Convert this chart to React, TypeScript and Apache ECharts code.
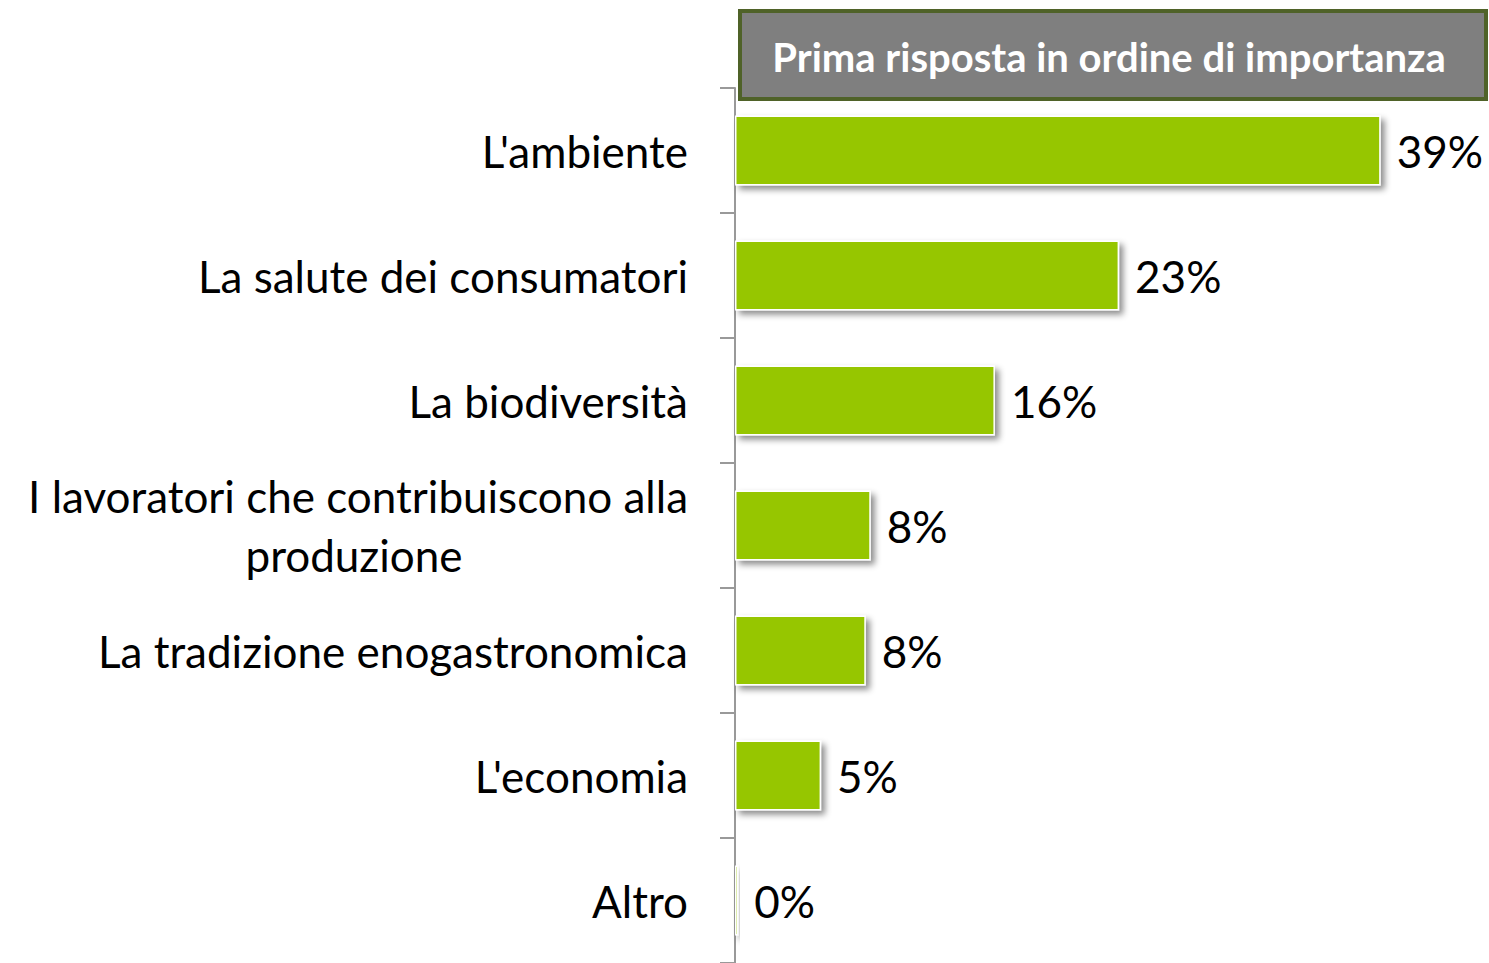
import React, { useEffect, useRef } from "react";
import * as echarts from "echarts";

const categories = [
  "L'ambiente",
  "La salute dei consumatori",
  "La biodiversità",
  "I lavoratori che contribuiscono alla\nproduzione",
  "La tradizione enogastronomica",
  "L'economia",
  "Altro",
];
const values = [39.0, 23.2, 15.7, 8.2, 7.9, 5.2, 0.2];
const titleText = "Prima risposta in ordine di importanza";

const FONT = "Lato";
const FS = 44;

export default function App() {
  const ref = useRef<HTMLDivElement>(null);
  useEffect(() => {
    if (!ref.current) return;
    const chart = echarts.init(ref.current, null, { renderer: "svg" });
    chart.setOption({
      animation: false,
      backgroundColor: "#ffffff",
      grid: { left: 735, right: 9, top: 88, bottom: -2, containLabel: false },
      xAxis: {
        type: "value",
        min: 0,
        max: 45,
        show: false,
      },
      yAxis: {
        type: "category",
        inverse: true,
        data: categories,
        axisLine: { show: true, lineStyle: { color: "#999999", width: 2 } },
        axisTick: { show: true, length: 15, lineStyle: { color: "#999999", width: 2 } },
        axisLabel: {
          margin: 47,
          fontFamily: FONT,
          fontSize: FS,
          color: "#000000",
          lineHeight: 59,
          formatter: (v: string) => {
            if (v.indexOf("\n") >= 0) {
              const [a, b] = v.split("\n");
              return "{a|" + a + "}\n{b|" + b + "}";
            }
            return v;
          },
          rich: {
            a: { fontFamily: FONT, fontSize: FS, color: "#000", lineHeight: 59 },
            b: { fontFamily: FONT, fontSize: FS, color: "#000", lineHeight: 59, width: 668, align: "center" },
          },
        },
      },
      series: [
        {
          type: "bar",
          data: values,
          barWidth: 70,
          itemStyle: {
            color: "#96c600",
            borderColor: "#ffffff",
            borderWidth: 1.5,
            shadowColor: "rgba(0,0,0,0.45)",
            shadowBlur: 6,
            shadowOffsetX: 4,
            shadowOffsetY: 4,
          },
          label: {
            show: true,
            position: "right",
            distance: 16,
            fontFamily: FONT,
            fontSize: FS,
            color: "#000000",
            formatter: (p: any) => Math.round(p.value) + "%",
          },
        },
      ],
      graphic: [
        {
          type: "rect",
          shape: { x: 740, y: 11, width: 746, height: 88 },
          style: { fill: "#7f7f7f", stroke: "#4f6228", lineWidth: 4 },
        },
        {
          type: "text",
          x: 1109,
          y: 57,
          style: {
            text: titleText,
            fill: "#ffffff",
            fontFamily: FONT,
            fontWeight: "bold",
            fontSize: 40,
            textAlign: "center",
            textVerticalAlign: "middle",
          },
        },
      ],
    });
    return () => chart.dispose();
  }, []);
  return (
    <div
      ref={ref}
      style={{ position: "absolute", left: 0, top: 0, width: 1489, height: 963 }}
    />
  );
}
